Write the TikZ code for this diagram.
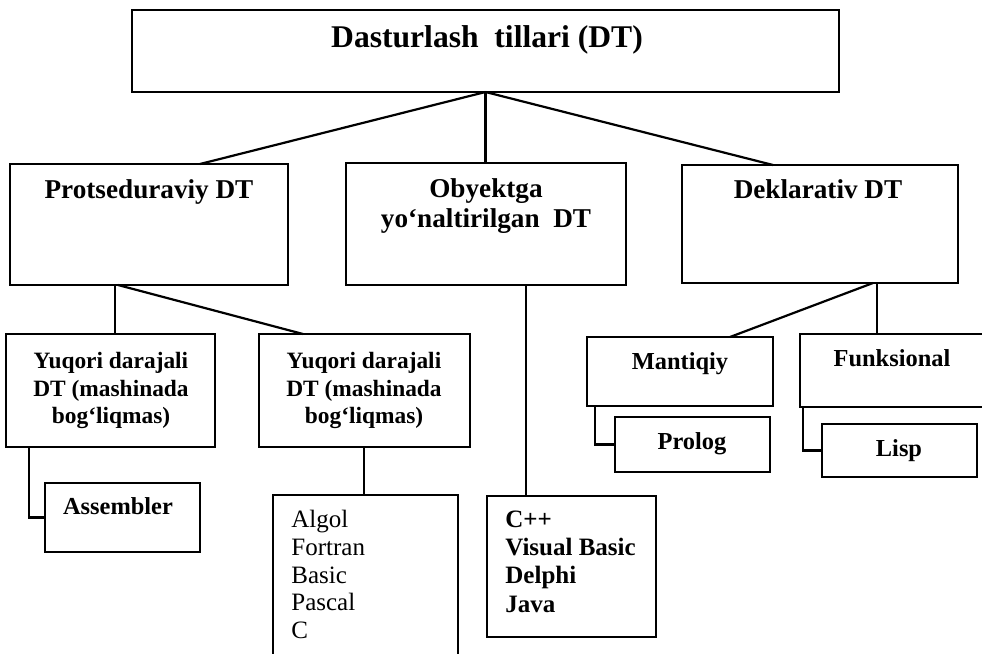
\documentclass[tikz,border=0pt]{standalone}
\usepackage{fontspec}
\setmainfont{Liberation Serif}
\usetikzlibrary{fit}
\begin{document}
\begin{tikzpicture}[x=0.5pt,y=-0.5pt]
\tikzset{
  box/.style={draw, line width=1.1pt, inner sep=0pt, outer sep=0pt},
  wire/.style={line width=1.1pt},
  txt/.style={anchor=base, inner sep=0pt, font=\bfseries\fontsize{12.2}{14}\selectfont},
  smalltxt/.style={txt, font=\bfseries\fontsize{11.7}{14}\selectfont},
  midtxt/.style={txt, font=\bfseries\fontsize{13.6}{16}\selectfont},
  titletxt/.style={txt, font=\bfseries\fontsize{15.8}{18}\selectfont},
  listtxt/.style={anchor=base west, inner sep=0pt, font=\fontsize{12.5}{14}\selectfont},
  boldlist/.style={listtxt, font=\bfseries\fontsize{12.5}{14}\selectfont},
}
\clip (0,0) rectangle (982,654);
\fill[white] (0,0) rectangle (982,654);

% boxes
\node[box, fit={(132,10) (839,92)}] (top) {};
\node[box, fit={(10,164) (288,285)}] (proc) {};
\node[box, fit={(346,163) (626,285)}] (obj) {};
\node[box, fit={(682,165) (958,283)}] (dekl) {};
\node[box, fit={(6,334) (215,447)}] (yu1) {};
\node[box, fit={(259,334) (470,447)}] (yu2) {};
\node[box, fit={(45,483) (200,552)}] (asm) {};
\node[box, line width=0.8pt, fit={(273,495) (458,690)}] (algol) {};
\node[box, fit={(487,496) (656,637)}] (cpp) {};
\node[box, fit={(587,337) (773,406)}] (mant) {};
\node[box, fit={(800,334) (1010,407)}] (funk) {};
\node[box, fit={(615,417) (770,472)}] (prolog) {};
\node[box, fit={(822,424) (977,477)}] (lisp) {};

% texts
\node[titletxt] (top-t) at (487,47) {Dasturlash\ \ tillari (DT)};
\node[midtxt] (proc-t) at (149,198) {Protseduraviy DT};
\node[midtxt] (obj-t1) at (486,197) {Obyektga};
\node[midtxt] (obj-t2) at (486,227) {yo‘naltirilgan\ \ DT};
\node[midtxt] (dekl-t) at (818,198) {Deklarativ DT};

\node[smalltxt] (yu1-a) at (111,368) {Yuqori darajali};
\node[smalltxt] (yu1-b) at (111,396) {DT (mashinada};
\node[smalltxt] (yu1-c) at (111,423) {bog‘liqmas)};
\node[smalltxt] (yu2-a) at (364,368) {Yuqori darajali};
\node[smalltxt] (yu2-b) at (364,396) {DT (mashinada};
\node[smalltxt] (yu2-c) at (364,423) {bog‘liqmas)};

\node[txt] (asm-t) at (118,514) {Assembler};
\node[txt] (mant-t) at (680,369) {Mantiqiy};
\node[txt] (prolog-t) at (692,449) {Prolog};
\node[txt] (funk-t) at (892,366) {Funksional};
\node[txt] (lisp-t) at (899,456) {Lisp};

\node[listtxt] (alg-1) at (291,527) {Algol};
\node[listtxt] (alg-2) at (291,555) {Fortran};
\node[listtxt] (alg-3) at (291,583) {Basic};
\node[listtxt] (alg-4) at (291,610) {Pascal};
\node[listtxt] (alg-5) at (291,638) {C};

\node[boldlist] (oo-1) at (505,527) {C++};
\node[boldlist] (oo-2) at (505,555) {Visual Basic};
\node[boldlist] (oo-3) at (505,583) {Delphi};
\node[boldlist] (oo-4) at (505,612) {Java};

% connectors
\draw[wire] (top.south) -- (proc.north -| 200,0);
\draw[wire] (top.south) -- (top.south |- obj.north);
\draw[wire] (top.south) -- (dekl.north -| 773,0);

\draw[wire] (proc.south -| 115,0) -- (yu1.north -| 115,0);
\draw[wire] (proc.south -| 118,0) -- (yu2.north -| 303,0);
\draw[wire] (yu1.south -| 29,0) |- (asm.west);
\draw[wire] (yu2.south -| 364,0) -- (algol.north -| 364,0);

\draw[wire] (obj.south -| 526,0) -- (cpp.north -| 526,0);

\draw[wire] (dekl.south -| 873,0) -- (mant.north -| 730,0);
\draw[wire] (dekl.south -| 877,0) -- (funk.north -| 877,0);
\draw[wire] (mant.south -| 595,0) |- (prolog.west);
\draw[wire] (funk.south -| 803,0) |- (lisp.west);
\end{tikzpicture}
\end{document}
